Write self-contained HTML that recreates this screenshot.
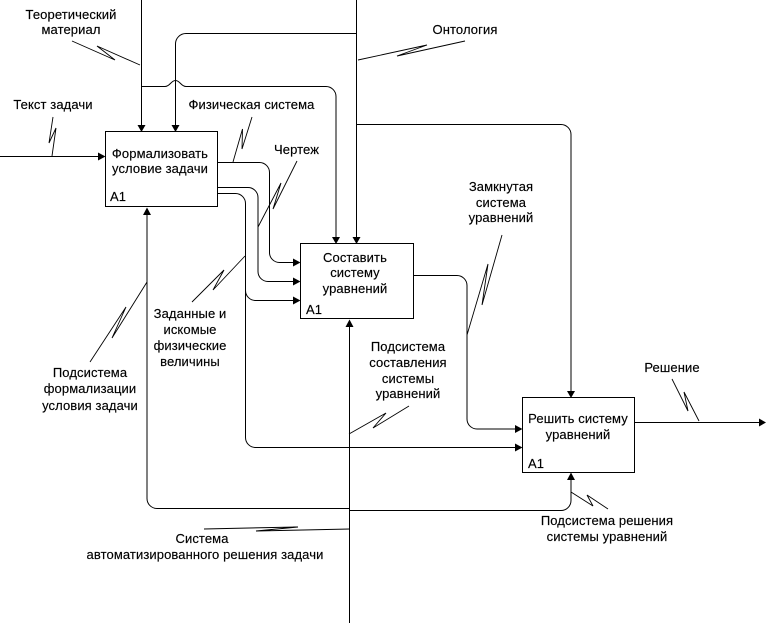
<!DOCTYPE html>
<html lang="ru">
<head>
<meta charset="utf-8">
<title>IDEF0</title>
<style>
html,body{margin:0;padding:0;background:#fff;}
svg{display:block;}
text{font-family:"Liberation Sans",Arial,sans-serif;font-size:13px;letter-spacing:.1px;fill:#000;stroke:#000;stroke-width:.15;text-anchor:middle;}
text.l{text-anchor:start;}
.c{fill:none;stroke:#000;stroke-width:1;}
.b{fill:#fff;stroke:#000;stroke-width:1;shape-rendering:crispEdges;}
.q{fill:none;stroke:#000;stroke-width:.9;}
.a{fill:#000;stroke:none;}
</style>
</head>
<body>
<svg width="766" height="623" viewBox="0 0 766 623" xmlns="http://www.w3.org/2000/svg">
<rect width="766" height="623" fill="#fff"/>

<!-- connectors -->
<path class="c" d="M141.500 0V125"/>
<path class="c" d="M141.500 86.500H165C170 86.500 171 80.500 175.500 80.500C180 80.500 181 86.500 186 86.500H326A10 10 0 0 1 336 96.500V237"/>
<path class="c" d="M356.500 0V237"/>
<path class="c" d="M356.500 33.500H186A10.500 10.500 0 0 0 175.500 44V125"/>
<path class="c" d="M356.500 124.500H561A10 10 0 0 1 571 134.500V391"/>
<path class="c" d="M0 156.500H99"/>
<path class="c" d="M218 162.500H259.500A10 10 0 0 1 269.500 172.500V252.500A10 10 0 0 0 279.500 262.500H294"/>
<path class="c" d="M218 187.500H248A10 10 0 0 1 258 197.500V271.500A10 10 0 0 0 268 281.500H294"/>
<path class="c" d="M218 193.500H235.500A10 10 0 0 1 245.500 203.500V437.500A10 10 0 0 0 255.500 447.500H516"/>
<path class="c" d="M245.500 290.500A10 10 0 0 0 255.500 300.500H294"/>
<path class="c" d="M413 275.500H457A10 10 0 0 1 467 285.500V419A10 10 0 0 0 477 429H516"/>
<path class="c" d="M634 422.500H760"/>
<path class="c" d="M349.500 623V326"/>
<path class="c" d="M349.500 508.500H157A10 10 0 0 1 147 498.500V214"/>
<path class="c" d="M349.500 510.500H561A10 10 0 0 0 571 500.500V479"/>

<!-- arrowheads -->
<path class="a" d="M137.500 125h8l-4 7z"/>
<path class="a" d="M171.500 125h8l-4 7z"/>
<path class="a" d="M332 237h8l-4 7z"/>
<path class="a" d="M352.500 237h8l-4 7z"/>
<path class="a" d="M567 391h8l-4 7z"/>
<path class="a" d="M98 152.500v8l7.500-4z"/>
<path class="a" d="M293 258.500v8l7.500-4z"/>
<path class="a" d="M293 277.500v8l7.500-4z"/>
<path class="a" d="M293 296.500v8l7.500-4z"/>
<path class="a" d="M515 425v8l7.500-4z"/>
<path class="a" d="M515 443.500v8l7.500-4z"/>
<path class="a" d="M759 418.500v8l7-4z"/>
<path class="a" d="M143 215h8l-4-7.500z"/>
<path class="a" d="M345.500 327h8l-4-7.500z"/>
<path class="a" d="M567 480h8l-4-7.500z"/>

<!-- leaders with squiggles -->
<polyline class="q" points="72,41 115,60 97,46 140,65"/>
<polyline class="q" points="53,117 49,143 56,128 52,156"/>
<polyline class="q" points="252,117 242,149 242.500,129 233,162"/>
<polyline class="q" points="297,161 273,209 281,183 258,227"/>
<polyline class="q" points="465,41 397,56 427,45 358,60"/>
<polyline class="q" points="502,235 482,305 488,264 467,335"/>
<polyline class="q" points="672,379 688,411 684,392 699,421"/>
<polyline class="q" points="608,509 587,495 593,506 571,492"/>
<polyline class="c" points="204,529 298,527 256,531 350,529"/>
<polyline class="q" points="409,406 373,428 386,413 349,434"/>
<polyline class="q" points="192,302 224,270 213,290 245,256"/>
<polyline class="q" points="90,362 126,307 112,338 147,282"/>

<!-- boxes -->
<rect class="b" x="105.500" y="131.500" width="112" height="75"/>
<rect class="b" x="300.500" y="243.500" width="113" height="75"/>
<rect class="b" x="522.500" y="397.500" width="112" height="75"/>

<!-- box text -->
<text x="160" y="158">Формализовать</text>
<text x="160" y="173">условие задачи</text>
<text class="l" x="110" y="201">A1</text>
<text x="355" y="262">Составить</text>
<text x="355" y="277">систему</text>
<text x="355" y="293">уравнений</text>
<text class="l" x="306" y="314">A1</text>
<text x="578" y="423">Решить систему</text>
<text x="578" y="439">уравнений</text>
<text class="l" x="528" y="468">A1</text>

<!-- labels -->
<text x="71" y="19">Теоретический</text>
<text x="71" y="34">материал</text>
<text x="53" y="109">Текст задачи</text>
<text x="251.500" y="109">Физическая система</text>
<text x="296.500" y="154">Чертеж</text>
<text x="465" y="34">Онтология</text>
<text x="501" y="191">Замкнутая</text>
<text x="501" y="207">система</text>
<text x="501" y="222">уравнений</text>
<text x="672" y="372">Решение</text>
<text x="607" y="525">Подсистема решения</text>
<text x="607" y="541">системы уравнений</text>
<text x="202" y="543">Система</text>
<text x="205" y="559">автоматизированного решения задачи</text>
<text x="90" y="377">Подсистема</text>
<text x="90" y="393">формализации</text>
<text x="90" y="410">условия задачи</text>
<text x="190" y="318">Заданные и</text>
<text x="190" y="334">искомые</text>
<text x="190" y="350">физические</text>
<text x="190" y="366">величины</text>
<text x="408" y="351">Подсистема</text>
<text x="408" y="367">составления</text>
<text x="408" y="383">системы</text>
<text x="408" y="398">уравнений</text>
</svg>
</body>
</html>
